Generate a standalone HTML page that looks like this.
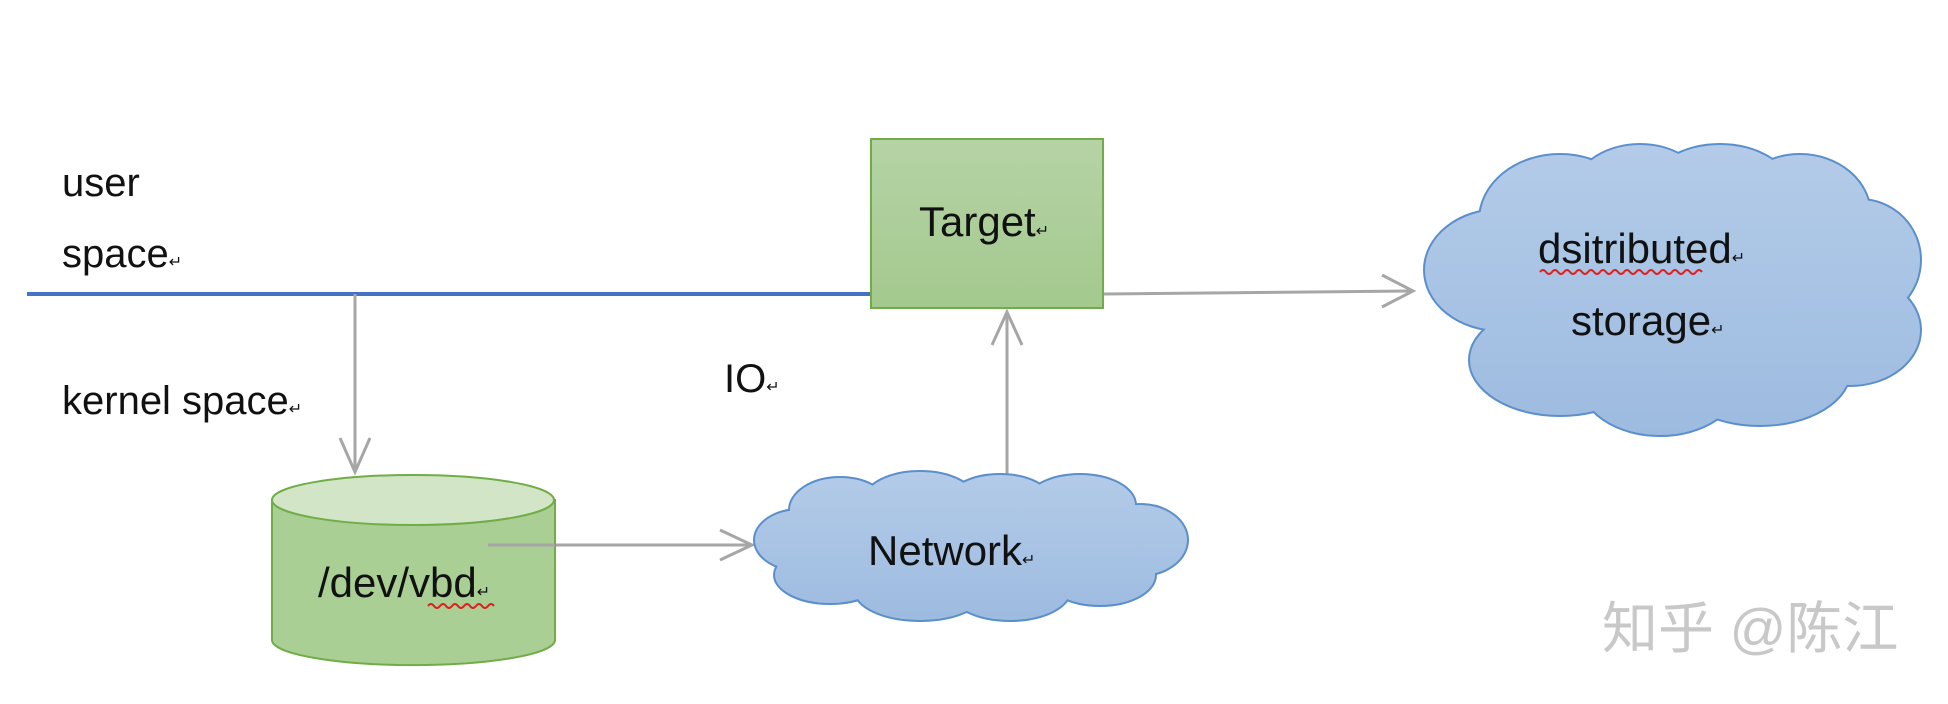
<!DOCTYPE html>
<html><head><meta charset="utf-8"><style>
body{margin:0;width:1948px;height:704px;background:#fff;overflow:hidden}
svg{position:absolute;left:0;top:0}
text{font-family:"Liberation Sans","Noto Sans CJK SC",sans-serif;fill:#111}
</style></head><body>
<svg width="1948" height="704" viewBox="0 0 1948 704">
<defs>
<linearGradient id="g" x1="0" y1="0" x2="0" y2="1"><stop offset="0" stop-color="#b6d3a6"/><stop offset="1" stop-color="#a3c98e"/></linearGradient>
<linearGradient id="b1" gradientUnits="userSpaceOnUse" x1="0" y1="150" x2="0" y2="435"><stop offset="0" stop-color="#b3cbe8"/><stop offset="1" stop-color="#9dbbe0"/></linearGradient>
<linearGradient id="b2" gradientUnits="userSpaceOnUse" x1="0" y1="472" x2="0" y2="622"><stop offset="0" stop-color="#b3cbe8"/><stop offset="1" stop-color="#9dbbe0"/></linearGradient>
<g id="c1">
<ellipse cx="1500" cy="270" rx="75" ry="60"/><ellipse cx="1560" cy="220" rx="80" ry="65"/><ellipse cx="1640" cy="200" rx="70" ry="55"/><ellipse cx="1720" cy="190" rx="70" ry="45"/><ellipse cx="1800" cy="215" rx="70" ry="60"/><ellipse cx="1860" cy="260" rx="60" ry="60"/><ellipse cx="1850" cy="330" rx="70" ry="55"/><ellipse cx="1760" cy="370" rx="90" ry="55"/><ellipse cx="1660" cy="380" rx="80" ry="55"/><ellipse cx="1560" cy="360" rx="90" ry="55"/><ellipse cx="1670" cy="290" rx="150" ry="90"/>
</g>
<g id="c2">
<ellipse cx="800" cy="540" rx="45" ry="30"/><ellipse cx="840" cy="510" rx="50" ry="32"/><ellipse cx="920" cy="500" rx="55" ry="28"/><ellipse cx="1000" cy="500" rx="50" ry="25"/><ellipse cx="1080" cy="505" rx="55" ry="30"/><ellipse cx="1140" cy="540" rx="47" ry="35"/><ellipse cx="1100" cy="575" rx="55" ry="30"/><ellipse cx="1010" cy="590" rx="60" ry="30"/><ellipse cx="920" cy="590" rx="65" ry="30"/><ellipse cx="830" cy="575" rx="55" ry="28"/><ellipse cx="970" cy="545" rx="160" ry="50"/>
</g>
</defs>
<line x1="27" y1="294" x2="870" y2="294" stroke="#4472c4" stroke-width="4"/>
<rect x="871" y="139" width="232" height="169" fill="url(#g)" stroke="#70ad47" stroke-width="2"/>
<text x="919" y="236" font-size="42">Target<tspan font-size="16">↵</tspan></text>
<g fill="none" stroke="#a6a6a6" stroke-width="3">
<line x1="355" y1="294" x2="355" y2="472"/><polyline points="340,438 355,472 370,438"/>
<line x1="488" y1="545" x2="752" y2="545"/><polyline points="720,530 752,545 720,560"/>
<line x1="1007" y1="475" x2="1007" y2="312"/><polyline points="992,345 1007,312 1022,345"/>
<line x1="1104" y1="294" x2="1413" y2="291"/><polyline points="1382,275 1413,291 1382,307"/>
</g>
<path d="M272 500 L272 640 A141 25 0 0 0 555 640 L555 500 Z" fill="#a9cf94" stroke="#70ad47" stroke-width="2"/>
<ellipse cx="413" cy="500" rx="141" ry="25" fill="#d2e5c6" stroke="#70ad47" stroke-width="2"/>
<line x1="488" y1="545" x2="555" y2="545" stroke="#a6a6a6" stroke-width="3"/>
<text x="318" y="597" font-size="42">/dev/vbd<tspan font-size="16">↵</tspan></text>
<path d="M428 606 q3 -4 6 0 t6 0 t6 0 t6 0 t6 0 t6 0 t6 0 t6 0 t6 0 t6 0 t6 0" fill="none" stroke="#e02020" stroke-width="2"/>
<use href="#c1" fill="none" stroke="#5b8fcb" stroke-width="4"/>
<use href="#c1" fill="url(#b1)"/>
<use href="#c2" fill="none" stroke="#5b8fcb" stroke-width="4"/>
<use href="#c2" fill="url(#b2)"/>
<text x="868" y="565" font-size="42">Network<tspan font-size="16">↵</tspan></text>
<text x="1538" y="263" font-size="42">dsitributed<tspan font-size="16">↵</tspan></text>
<path d="M1540 272 q3 -4 6 0 t6 0 t6 0 t6 0 t6 0 t6 0 t6 0 t6 0 t6 0 t6 0 t6 0 t6 0 t6 0 t6 0 t6 0 t6 0 t6 0 t6 0 t6 0 t6 0 t6 0 t6 0 t6 0 t6 0 t6 0 t6 0 t6 0" fill="none" stroke="#e02020" stroke-width="2"/>
<text x="1571" y="335" font-size="42">storage<tspan font-size="16">↵</tspan></text>
<text x="62" y="196" font-size="40">user</text>
<text x="62" y="267" font-size="40">space<tspan font-size="16">↵</tspan></text>
<text x="62" y="414" font-size="40">kernel space<tspan font-size="16">↵</tspan></text>
<text x="724" y="392" font-size="40">IO<tspan font-size="16">↵</tspan></text>
<text x="1602" y="648" font-size="56" style="fill:#c8c8c8">知乎 @陈江</text>
</svg>
</body></html>
